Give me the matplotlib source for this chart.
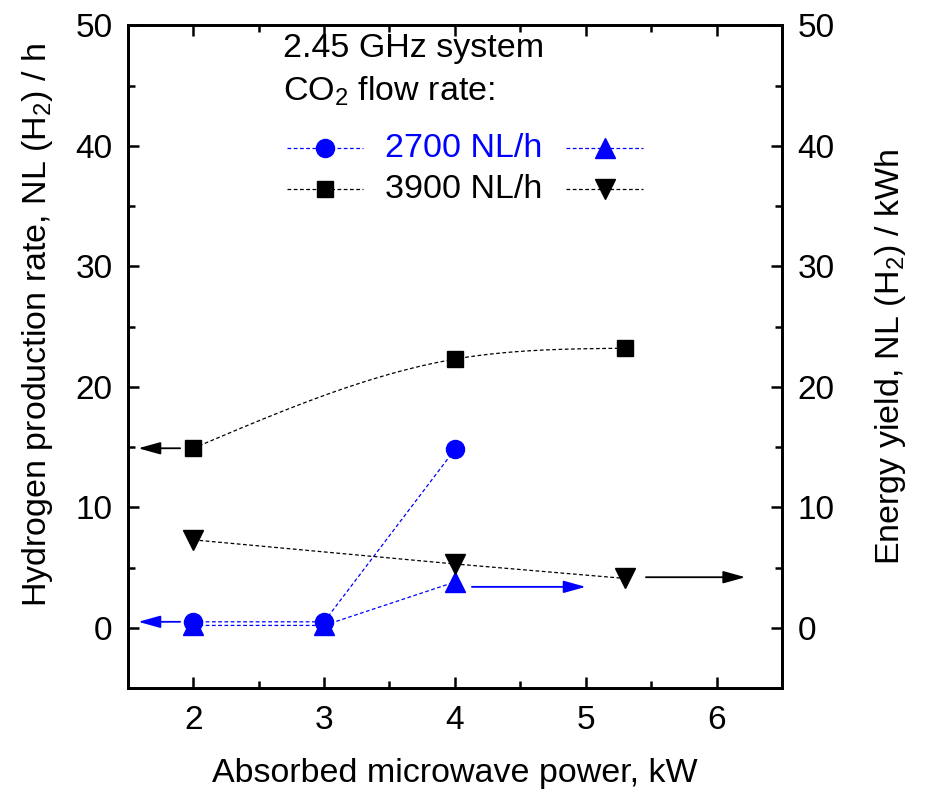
import numpy as np
import matplotlib.pyplot as plt
from matplotlib.ticker import MultipleLocator

plt.rcParams['font.family'] = ['Liberation Sans', 'DejaVu Sans']
plt.rcParams['mathtext.fontset'] = 'custom'
plt.rcParams['mathtext.rm'] = 'Liberation Sans'
plt.rcParams['mathtext.it'] = 'Liberation Sans'

# 2700 NL/h CO2 flow
power_2700 = [2, 3, 4]
h2_rate_2700 = [0.5, 0.5, 14.8]
yield_2700 = [0.2, 0.2, 3.8]

# 3900 NL/h CO2 flow
power_3900 = [2, 4, 5.3]
h2_rate_3900 = [14.9, 22.3, 23.2]
yield_3900 = [7.3, 5.3, 4.1]

legend_labels = ['2700 NL/h', '3900 NL/h']
BLUE = '#0000ff'
FS = 24.5


def natural_spline(x, y, n=200):
    # small natural cubic spline so the dashed guide looks like the original smooth curve
    x = np.asarray(x, float)
    y = np.asarray(y, float)
    k = len(x)
    h = np.diff(x)
    A = np.zeros((k, k))
    r = np.zeros(k)
    A[0, 0] = A[-1, -1] = 1
    for i in range(1, k - 1):
        A[i, i - 1] = h[i - 1]
        A[i, i] = 2 * (h[i - 1] + h[i])
        A[i, i + 1] = h[i]
        r[i] = 6 * ((y[i + 1] - y[i]) / h[i] - (y[i] - y[i - 1]) / h[i - 1])
    m = np.linalg.solve(A, r)
    xs = np.linspace(x[0], x[-1], n)
    ys = np.empty_like(xs)
    for j, xv in enumerate(xs):
        i = min(np.searchsorted(x, xv, side='right') - 1, k - 2)
        t0 = x[i + 1] - xv
        t1 = xv - x[i]
        ys[j] = (m[i] * t0 ** 3 + m[i + 1] * t1 ** 3) / (6 * h[i]) \
            + (y[i] / h[i] - m[i] * h[i] / 6) * t0 \
            + (y[i + 1] / h[i] - m[i + 1] * h[i] / 6) * t1
    return xs, ys


fig = plt.figure(figsize=(9.26, 7.9), dpi=100)
ax = fig.add_axes([0.138, 0.129, 0.7065, 0.839])
ax2 = ax.twinx()

dash = dict(linestyle=(0, (3, 2)), lw=0.9)

# blue series
ax.plot(power_2700, h2_rate_2700, color=BLUE, **dash, zorder=2)
ax.plot(power_2700, h2_rate_2700, 'o', color=BLUE, ms=13, zorder=4)
ax.plot(power_2700, yield_2700, color=BLUE, **dash, zorder=2)
ax.plot(power_2700, yield_2700, '^', color=BLUE, ms=14, zorder=4)

# black series
sx, sy = natural_spline(power_3900, h2_rate_3900)
ax.plot(sx, sy, color='black', **dash, zorder=2)
ax.plot(power_3900, h2_rate_3900, 's', color='black', ms=11.5, zorder=4)
ax.plot(power_3900, yield_3900, color='black', **dash, zorder=2)
ax.plot(power_3900, yield_3900, 'v', color='black', ms=14, zorder=4)

# axis arrows
arr = '-|>,head_length=0.9,head_width=0.25'
ax.annotate('', xy=(1.58, h2_rate_3900[0]), xytext=(1.9, h2_rate_3900[0]),
            arrowprops=dict(arrowstyle=arr, color='black', lw=1.3, mutation_scale=15,
                            shrinkA=0, shrinkB=0))
ax.annotate('', xy=(1.58, h2_rate_2700[0]), xytext=(1.9, h2_rate_2700[0]),
            arrowprops=dict(arrowstyle=arr, color=BLUE, lw=1.3, mutation_scale=15,
                            shrinkA=0, shrinkB=0))
ax.annotate('', xy=(5.0, 3.4), xytext=(4.13, 3.4),
            arrowprops=dict(arrowstyle=arr, color=BLUE, lw=1.3, mutation_scale=15,
                            shrinkA=0, shrinkB=0))
ax.annotate('', xy=(6.22, 4.2), xytext=(5.46, 4.2),
            arrowprops=dict(arrowstyle=arr, color='black', lw=1.3, mutation_scale=15,
                            shrinkA=0, shrinkB=0))

# hand-made legend
ax.text(0.237, 0.965, '2.45 GHz system', transform=ax.transAxes, fontsize=FS,
        va='center', ha='left')
ax.text(0.237, 0.900, 'CO$_2$ flow rate:', transform=ax.transAxes, fontsize=FS,
        va='center', ha='left')
rows = [(0.8145, BLUE, 'o', '^', 13, 14, legend_labels[0]),
        (0.7526, 'black', 's', 'v', 11.5, 14, legend_labels[1])]
for yy, c, m1, m2, s1, s2, lab in rows:
    ax.plot([0.243, 0.359], [yy, yy], color=c, transform=ax.transAxes, **dash)
    ax.plot([0.301], [yy], m1, color=c, ms=s1, transform=ax.transAxes)
    ax.plot([0.670, 0.787], [yy, yy], color=c, transform=ax.transAxes, **dash)
    ax.plot([0.729], [yy], m2, color=c, ms=s2, transform=ax.transAxes)
    ax.text(0.393, yy, lab, color=c, transform=ax.transAxes, fontsize=FS,
            va='center', ha='left')

for a in (ax, ax2):
    a.set_xlim(1.5, 6.5)
    a.set_ylim(-5, 50)
    a.yaxis.set_major_locator(MultipleLocator(10))
    a.yaxis.set_minor_locator(MultipleLocator(5))
    a.tick_params(which='both', direction='in', width=1.8, labelsize=24)
    a.tick_params(which='major', length=8)
    a.tick_params(which='minor', length=5)
    for sp in a.spines.values():
        sp.set_linewidth(2)

ax.xaxis.set_major_locator(MultipleLocator(1))
ax.xaxis.set_minor_locator(MultipleLocator(0.5))
ax.tick_params(axis='x', which='both', top=True, pad=12)
ax.tick_params(axis='y', which='both', right=False, pad=11)
ax2.tick_params(axis='y', which='both', pad=11)

ax.set_xlabel('Absorbed microwave power, kW', fontsize=FS, labelpad=16)
ax.set_ylabel('Hydrogen production rate, NL (H$_2$) / h', fontsize=FS)
ax.yaxis.set_label_coords(-0.112, 0.548)
ax2.set_ylabel('Energy yield, NL (H$_2$) / kWh', fontsize=FS, labelpad=28)

fig.savefig('out.png', dpi=100)
